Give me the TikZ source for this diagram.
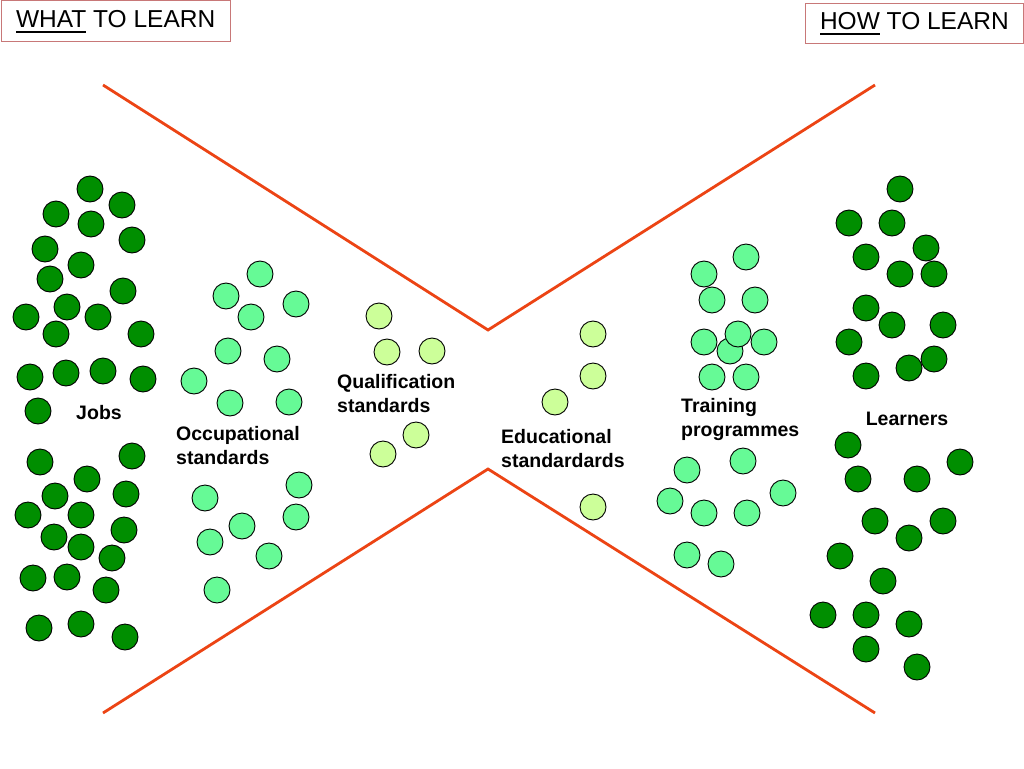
\documentclass[tikz,border=0pt]{standalone}
\usepackage{fontspec}
\setmainfont{Liberation Sans}
\definecolor{dkgreen}{RGB}{0,142,0}
\definecolor{mdgreen}{RGB}{102,250,150}
\definecolor{ltgreen}{RGB}{204,255,153}
\definecolor{funnel}{RGB}{236,68,20}
\definecolor{boxred}{RGB}{200,120,120}
\newcommand{\myul}[1]{\setbox0\hbox{#1}\rlap{\vrule width \wd0 height -4pt depth 5.8pt}\box0\relax}
\tikzset{
  dot/.style={circle, draw=black, line width=0.9pt, minimum size=26pt, inner sep=0pt},
  dk/.style={dot, fill=dkgreen},
  md/.style={dot, fill=mdgreen},
  lt/.style={dot, fill=ltgreen},
  lbl/.style={font=\fontsize{19.5}{24}\selectfont\bfseries, inner sep=0pt, align=left},
  hdr/.style={draw=boxred, line width=0.8pt, font=\fontsize{24.5}{28}\selectfont, inner sep=0pt, anchor=north west},
  fun/.style={draw=funnel, line width=2.8pt}
}
\begin{document}
\begin{tikzpicture}[x=1pt,y=-1pt]
\useasboundingbox (0,0) rectangle (1024,768);
\fill[white] (0,0) rectangle (1024,768);
% headers
\node[hdr, minimum width=229.5pt, minimum height=41pt] (what) at (0.5,0.5) {\myul{WHAT} TO LEARN};
\node[hdr, minimum width=218pt, minimum height=40pt] (how) at (805,3) {\myul{HOW} TO LEARN};
% funnel lines
\coordinate (a1) at (103,85);
\coordinate (a2) at (488,330);
\coordinate (a3) at (875,85);
\coordinate (b1) at (103,713);
\coordinate (b2) at (488,469);
\coordinate (b3) at (875,713);
\draw[fun] (a1) -- (a2) -- (a3);
\draw[fun] (b1) -- (b2) -- (b3);
% jobs
\foreach \x/\y [count=\i] in {90/189,122/205,56/214,91/224,132/240,45/249,81/265,50/279,123/291,67/307,26/317,98/317,56/334,141/334,30/377,66/373,103/371,143/379,38/411,
 40/462,132/456,87/479,55/496,126/494,28/515,81/515,124/530,54/537,81/547,112/558,33/578,67/577,106/590,39/628,81/624,125/637}
  \node[dk] (j\i) at (\x,\y) {};
% occupational
\foreach \x/\y [count=\i] in {260/274,226/296,296/304,251/317,228/351,277/359,194/381,230/403,289/402,
 205/498,299/485,242/526,296/517,210/542,269/556,217/590}
  \node[md] (o\i) at (\x,\y) {};
% qualification
\foreach \x/\y [count=\i] in {379/316,387/352,432/351,416/435,383/454}
  \node[lt] (q\i) at (\x,\y) {};
% educational
\foreach \x/\y [count=\i] in {593/334,593/376,555/402,593/507}
  \node[lt] (e\i) at (\x,\y) {};
% training
\foreach \x/\y [count=\i] in {746/257,704/274,712/300,755/300,704/342,764/342,730/351,738/334,712/377,746/377,
 687/470,743/461,670/501,704/513,747/513,783/493,687/555,721/564}
  \node[md] (t\i) at (\x,\y) {};
% learners
\foreach \x/\y [count=\i] in {900/189,849/223,892/223,866/257,926/248,900/274,934/274,866/308,892/325,943/325,849/342,866/376,909/368,934/359,
 848/445,960/462,858/479,917/479,875/521,943/521,909/538,840/556,883/581,823/615,866/615,909/624,866/649,917/667}
  \node[dk] (l\i) at (\x,\y) {};
% labels
\node[lbl] (jobs) at (99,413) {Jobs};
\node[lbl, anchor=west] (occ) at (176,446) {Occupational\\standards};
\node[lbl, anchor=west] (qual) at (337,394) {Qualification\\standards};
\node[lbl, anchor=west] (edu) at (501,449) {Educational\\standardards};
\node[lbl, anchor=west] (train) at (681,419) {Training\\programmes};
\node[lbl] (learn) at (907,419) {Learners};
\end{tikzpicture}
\end{document}
